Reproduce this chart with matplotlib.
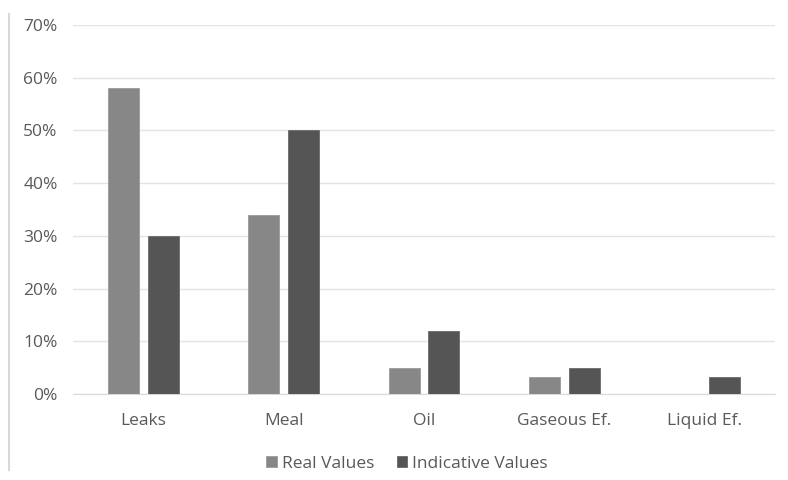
import numpy as np
import matplotlib.pyplot as plt
from matplotlib.lines import Line2D
from matplotlib.ticker import PercentFormatter

categories = ['Leaks', 'Meal', 'Oil', 'Gaseous Ef.', 'Liquid Ef.']
real_values = [58, 34, 5, 3.2, 0]
indicative_values = [30, 50, 12, 5, 3.2]
series_names = ['Real Values', 'Indicative Values']

plt.rcParams['font.family'] = ['Open Sans', 'DejaVu Sans']

fig = plt.figure(figsize=(7.88, 4.8), dpi=100)
ax = fig.add_axes([73 / 788, 1 - 394 / 480, 702 / 788, 369 / 480])

x = np.arange(len(categories))
w = 0.22
gap = 0.064
ax.bar(x - (w + gap) / 2, real_values, w, color='#878787', edgecolor='#9a9a9a',
       linewidth=0.6, label=series_names[0], zorder=3)
ax.bar(x + (w + gap) / 2, indicative_values, w, color='#555555', edgecolor='#6a6a6a',
       linewidth=0.6, label=series_names[1], zorder=3)

ax.set_xlim(-0.5, len(categories) - 0.5)
ax.set_ylim(0, 70)
ax.set_yticks(range(0, 71, 10))
ax.yaxis.set_major_formatter(PercentFormatter(decimals=0))
ax.set_xticks(x)
ax.set_xticklabels(categories)
ax.grid(axis='y', color='#e3e3e3', linewidth=1, zorder=0)
for s in ['top', 'right', 'left']:
    ax.spines[s].set_visible(False)
ax.spines['bottom'].set_color('#d9d9d9')
ax.tick_params(axis='both', length=0, labelsize=12.5, colors='#595959')
ax.tick_params(axis='y', pad=11)
ax.tick_params(axis='x', pad=14)

fig.legend(loc='center', bbox_to_anchor=(407 / 788, 1 - 464 / 480), ncol=2,
           frameon=False, fontsize=12.5, handlelength=0.6, handleheight=0.6,
           handletextpad=0.3, columnspacing=1.3, labelcolor='#595959')

fig.add_artist(Line2D([9 / 788, 9 / 788], [1 - 470 / 480, 1 - 14 / 480],
                      color='#d9d9d9', linewidth=1.5, transform=fig.transFigure))

fig.savefig('out.png', dpi=100, facecolor='white')
